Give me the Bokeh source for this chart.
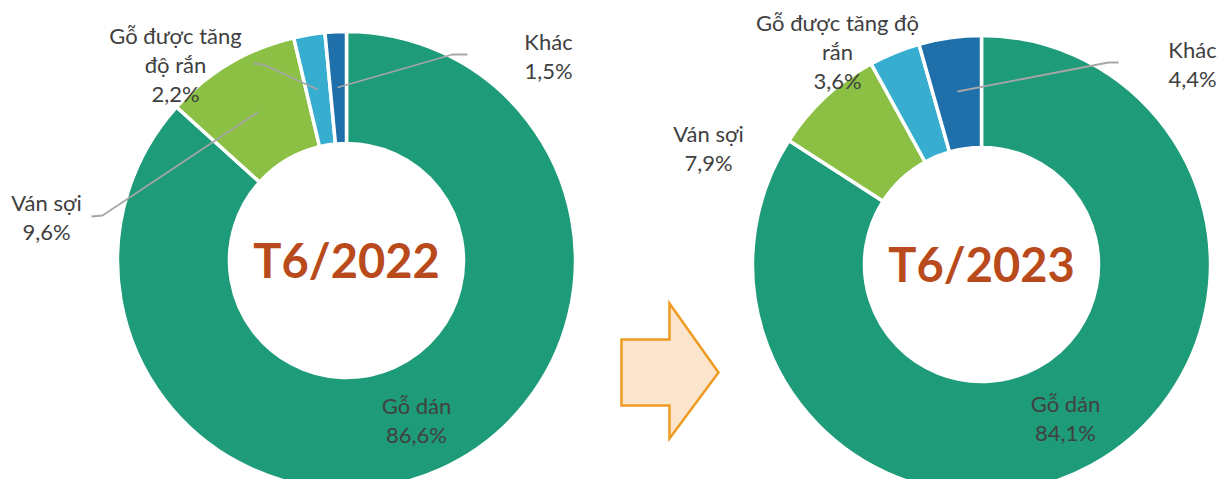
import math
from bokeh.plotting import figure
from bokeh.models import Range1d
from bokeh.core.properties import value
from bokeh.embed import file_html
from bokeh.resources import INLINE

# ---- data ----
categories = ["Gỗ dán", "Ván sợi", "Gỗ được tăng độ rắn", "Khác"]
share_2022 = [86.6, 9.6, 2.2, 1.5]
share_2023 = [84.1, 7.9, 3.6, 4.4]
titles = ["T6/2022", "T6/2023"]
colors = ["#1E9B78", "#8BC045", "#37ADCF", "#1F6FAA"]

# label lines per chart (wrapped as in the source)
labels_2022 = [["Gỗ dán"], ["Ván sợi"], ["Gỗ được tăng", "độ rắn"], ["Khác"]]
labels_2023 = [["Gỗ dán"], ["Ván sợi"], ["Gỗ được tăng độ", "rắn"], ["Khác"]]

# ---- layout (reference pixel coordinates) ----
W, H = 1222, 479
PAGE_H = 487
def Y(y):
    return PAGE_H - y

FONT = "Lato"
LABEL_COLOR = "#404040"
TITLE_COLOR = "#B94A1B"
LEADER = "#A6A6A6"

p = figure(width=W, height=H, output_backend="svg", toolbar_location=None,
           x_range=Range1d(0, W), y_range=Range1d(PAGE_H - H, PAGE_H),
           min_border=0, match_aspect=False)
p.axis.visible = False
p.grid.visible = False
p.outline_line_color = None
p.background_fill_color = "white"
p.border_fill_color = "white"

R_OUT, R_IN = 229, 117

charts = [
    dict(vals=share_2022, cx=346, cy=260, title=titles[0], labels=labels_2022,
         label_pos=[(416, 405), (46, 202), (175, 35), (548, 41)],
         leaders=[None,
                  [(91, 216), (102, 215), (257, 112)],
                  [(253, 63), (263, 64), (317, 89)],
                  [(467, 54), (452, 54), (337, 87)]]),
    dict(vals=share_2023, cx=981, cy=264, title=titles[1], labels=labels_2023,
         label_pos=[(1065, 403), (708, 133), (837, 22), (1192, 49)],
         leaders=[None, None, None,
                  [(1118, 62), (1108, 62), (957, 91)]]),
]

LINE_H = 29
for ch in charts:
    vals = ch["vals"]
    tot = sum(vals)
    cum = 0.0
    starts, ends = [], []
    for v in vals:
        a0 = math.pi / 2 - 2 * math.pi * (cum + v) / tot
        a1 = math.pi / 2 - 2 * math.pi * cum / tot
        starts.append(a0)
        ends.append(a1)
        cum += v
    p.annular_wedge(x=[ch["cx"]] * len(vals), y=[Y(ch["cy"])] * len(vals),
                    inner_radius=R_IN, outer_radius=R_OUT,
                    start_angle=starts, end_angle=ends,
                    fill_color=colors, line_color="white", line_width=3.5)
    # title
    p.text(x=[ch["cx"]], y=[Y(ch["cy"] - 1)], text=[ch["title"]],
           text_font=value(FONT), text_font_style="bold", text_font_size="47px",
           text_color=TITLE_COLOR, text_align="center", text_baseline="middle")
    # leaders
    for ld in ch["leaders"]:
        if ld:
            p.line(x=[a for a, b in ld], y=[Y(b) for a, b in ld],
                   line_color=LEADER, line_width=1.8)
    # labels
    for lines, v, (lx, ly) in zip(ch["labels"], vals, ch["label_pos"]):
        allt = lines + [("%.1f%%" % v).replace(".", ",")]
        for k, t in enumerate(allt):
            p.text(x=[lx], y=[Y(ly + k * LINE_H)], text=[t],
                   text_font=value(FONT), text_font_size="22px",
                   text_color=LABEL_COLOR, text_align="center",
                   text_baseline="middle")

# arrow between the two charts
ax = [621, 669, 669, 718, 669, 669, 621]
ay = [339, 339, 303, 372, 438, 405, 405]
p.patch(x=ax, y=[Y(v) for v in ay], fill_color="#FBE6CD",
        line_color="#EE9B22", line_width=2.5, line_join="miter")

open("out.html", "w").write(file_html(p, INLINE))
